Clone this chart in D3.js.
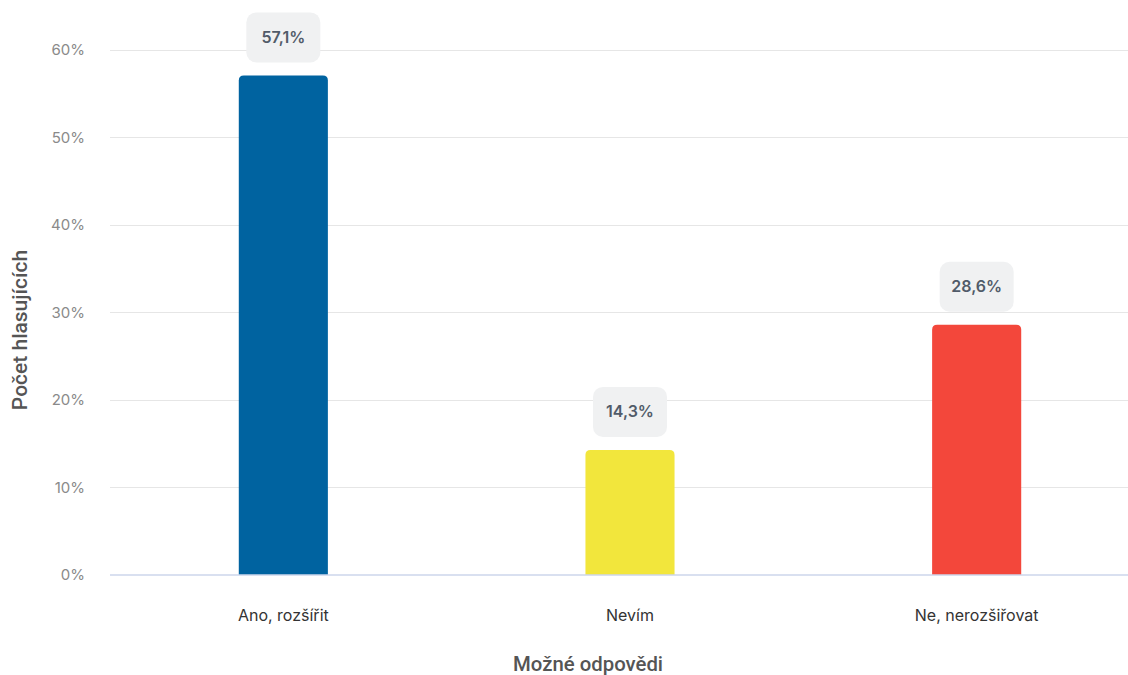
<!DOCTYPE html>
<html><head><meta charset="utf-8">
<script src="https://cdn.jsdelivr.net/npm/d3@7"></script>
<style>body{margin:0;background:#fff}svg{display:block}</style>
</head><body>
<svg id="c" width="1128" height="675"></svg>
<script>
const categories = ["Ano, rozšířit", "Nevím", "Ne, nerozšiřovat"];
const values = [57.1, 14.3, 28.6];
const valueLabels = ["57,1%", "14,3%", "28,6%"];
const colors = ["#0063a0", "#f2e63c", "#f3473b"];
const yTicks = [0, 10, 20, 30, 40, 50, 60];
const xTitle = "Možné odpovědi";
const yTitle = "Počet hlasujících";

const svg = d3.select("#c");
const y = d3.scaleLinear().domain([0, 60]).range([575, 50]);
const x = d3.scaleBand().domain(categories).range([110, 1150]).paddingInner(0.743).paddingOuter(0.3715);

// grid
svg.append("g").selectAll("line").data(yTicks.filter(d => d > 0)).join("line")
  .attr("x1", 110).attr("x2", 1128).attr("y1", d => y(d)).attr("y2", d => y(d))
  .attr("stroke", "#e6e6e6").attr("stroke-width", 1).attr("shape-rendering", "crispEdges");
// y tick labels
svg.append("g").selectAll("text").data(yTicks).join("text")
  .attr("x", 85).attr("y", d => y(d)).attr("dy", "0.35em").attr("text-anchor", "end")
  .attr("font-family", "Inter, sans-serif").attr("font-size", 15).attr("fill", "#8a8a8a")
  .text(d => d + "%");

// bars with rounded top
const r = 5;
svg.append("g").selectAll("path").data(values).join("path")
  .attr("fill", (d, i) => colors[i])
  .attr("d", (d, i) => {
    const x0 = x(categories[i]), w = x.bandwidth(), y0 = y(0), yt = y(d);
    return `M${x0},${y0}V${yt + r}Q${x0},${yt} ${x0 + r},${yt}H${x0 + w - r}Q${x0 + w},${yt} ${x0 + w},${yt + r}V${y0}Z`;
  });

// baseline
svg.append("line").attr("x1", 110).attr("x2", 1128).attr("y1", y(0)).attr("y2", y(0))
  .attr("stroke", "#ccd6eb").attr("stroke-width", 1.5);

// value label boxes
const lg = svg.append("g").selectAll("g").data(values).join("g")
  .attr("transform", (d, i) => `translate(${x(categories[i]) + x.bandwidth() / 2},${y(d) - 38})`);
lg.append("rect").attr("x", -37).attr("y", -25).attr("width", 74).attr("height", 50)
  .attr("rx", 10).attr("fill", "#f0f1f2");
lg.append("text").attr("text-anchor", "middle").attr("dy", "0.35em")
  .attr("font-family", "Inter, sans-serif").attr("font-size", 16).attr("font-weight", 600)
  .attr("fill", "#515b69").text((d, i) => valueLabels[i]);

// x labels
svg.append("g").selectAll("text").data(categories).join("text")
  .attr("x", d => x(d) + x.bandwidth() / 2).attr("y", 615).attr("dy", "0.35em")
  .attr("text-anchor", "middle").attr("font-family", "Inter, sans-serif").attr("font-size", 16)
  .attr("fill", "#333").text(d => d);

// axis titles
svg.append("text").attr("transform", "translate(588,664) scale(0.97,1)").attr("text-anchor", "middle")
  .attr("dy", "0.35em").attr("font-family", "Roboto, sans-serif").attr("font-size", 21).attr("font-weight", 500)
  .attr("fill", "#555").text(xTitle);
svg.append("text").attr("transform", "translate(20,330) rotate(-90)").attr("text-anchor", "middle")
  .attr("dy", "0.35em").attr("font-family", "Roboto, sans-serif").attr("font-size", 21).attr("font-weight", 500)
  .attr("fill", "#555").text(yTitle);
</script>
</body></html>
